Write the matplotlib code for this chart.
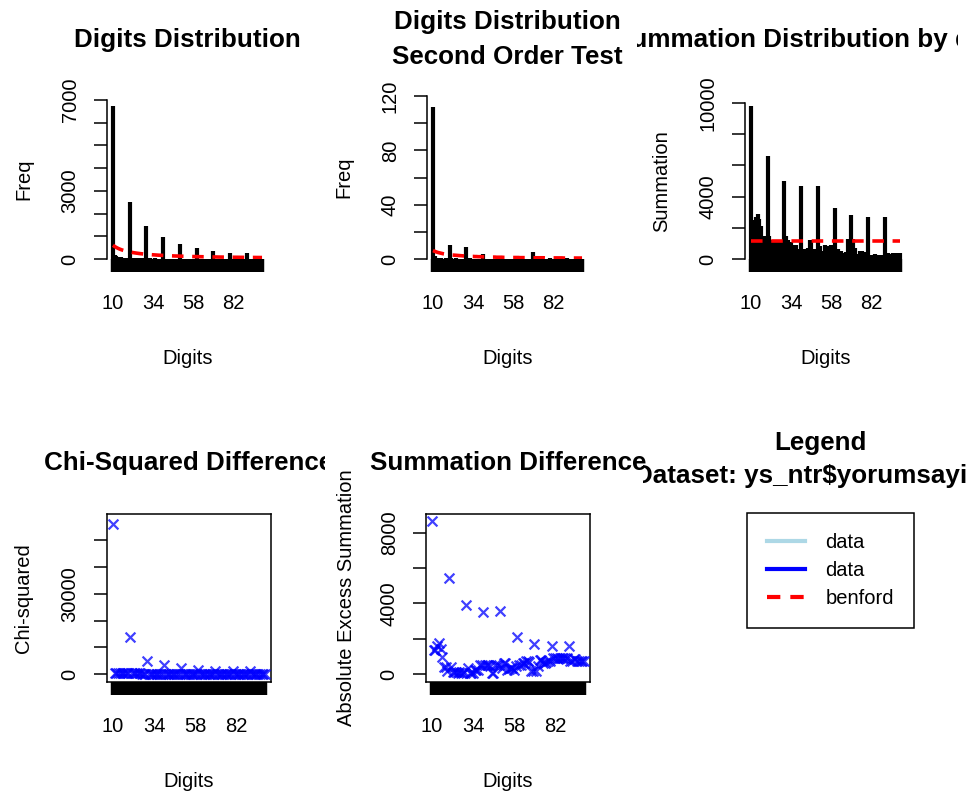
import numpy as np
import matplotlib
matplotlib.use("Agg")
import matplotlib.pyplot as plt
from matplotlib.lines import Line2D
from matplotlib.transforms import Bbox, TransformedBbox

plt.rcParams['font.family'] = ['Liberation Sans', 'DejaVu Sans']

# first-two digits 10..99
digits = list(range(10, 100))
shown_x = [10, 34, 58, 82]

# digits distribution (frequency)
freq = [6734, 190, 120, 80, 60, 70, 50, 45, 40, 35,
        2516, 40, 35, 30, 30, 40, 30, 25, 25, 20,
        1450, 30, 25, 20, 20, 25, 20, 18, 15, 15,
        977, 20, 18, 15, 15, 20, 15, 12, 12, 10,
        666, 15, 12, 12, 10, 15, 10, 10, 10, 8,
        488, 12, 10, 10, 8, 10, 8, 8, 8, 8,
        370, 10, 8, 8, 8, 10, 8, 6, 6, 6,
        281, 8, 6, 6, 6, 8, 6, 6, 6, 6,
        266, 6, 6, 5, 5, 6, 5, 5, 5, 5]
benford_freq = [604, 552, 508, 470, 437, 409, 384, 362, 343, 325,
                309, 295, 282, 270, 259, 249, 239, 231, 223, 215,
                208, 201, 195, 189, 184, 179, 174, 169, 165, 161,
                157, 153, 149, 146, 142, 139, 136, 133, 131, 128,
                126, 123, 121, 119, 116, 114, 112, 110, 108, 107,
                105, 103, 101, 100, 98, 97, 95, 94, 93, 91,
                90, 89, 88, 86, 85, 84, 83, 82, 81, 80,
                79, 78, 77, 76, 76, 75, 74, 73, 72, 71,
                71, 70, 69, 68, 68, 67, 66, 66, 65, 65]

# second order test
freq2 = [112, 2, 1, 1, 0, 1, 0, 0, 1, 0,
         10, 1, 0, 0, 1, 0, 0, 0, 0, 0,
         9, 0, 1, 0, 0, 0, 0, 0, 0, 0,
         4, 0, 0, 0, 0, 0, 0, 0, 0, 0,
         1, 0, 0, 0, 0, 0, 0, 0, 0, 0,
         2, 0, 0, 0, 0, 0, 0, 0, 0, 0,
         5, 0, 0, 0, 0, 0, 0, 0, 0, 0,
         1, 0, 0, 0, 0, 0, 0, 0, 0, 0,
         1, 0, 0, 0, 0, 0, 0, 0, 0, 0]
benford_freq2 = [6.2, 5.7, 5.2, 4.8, 4.5, 4.2, 3.9, 3.7, 3.5, 3.3,
                 3.2, 3.0, 2.9, 2.8, 2.7, 2.6, 2.5, 2.4, 2.3, 2.2,
                 2.1, 2.1, 2.0, 1.9, 1.9, 1.8, 1.8, 1.7, 1.7, 1.7,
                 1.6, 1.6, 1.5, 1.5, 1.5, 1.4, 1.4, 1.4, 1.3, 1.3,
                 1.3, 1.3, 1.2, 1.2, 1.2, 1.2, 1.2, 1.1, 1.1, 1.1,
                 1.1, 1.1, 1.0, 1.0, 1.0, 1.0, 1.0, 1.0, 1.0, 0.9,
                 0.9, 0.9, 0.9, 0.9, 0.9, 0.9, 0.9, 0.8, 0.8, 0.8,
                 0.8, 0.8, 0.8, 0.8, 0.8, 0.8, 0.8, 0.8, 0.7, 0.7,
                 0.7, 0.7, 0.7, 0.7, 0.7, 0.7, 0.7, 0.7, 0.7, 0.7]

# summation by digits
summation = [9800, 2480, 2480, 2700, 2910, 2570, 2100, 1500, 1500, 1300,
             6590, 1500, 1240, 1240, 1240, 1200, 1240, 1070, 1070, 1000,
             5030, 1455, 1200, 1070, 1070, 920, 900, 920, 640, 640,
             4650, 640, 640, 640, 700, 1200, 1200, 640, 640, 600,
             4700, 810, 490, 490, 920, 850, 810, 810, 920, 700,
             3250, 640, 640, 490, 490, 385, 385, 450, 1300, 1300,
             2850, 1300, 700, 340, 340, 490, 490, 450, 420, 420,
             2700, 240, 240, 240, 300, 240, 240, 240, 240, 240,
             2720, 385, 385, 300, 300, 385, 385, 385, 385, 385]
benford_sum = 1130

# chi-squared difference
chi_sq = [56200, 470, 420, 380, 350, 320, 300, 280, 260, 250,
          13900, 240, 230, 220, 210, 200, 190, 180, 170, 165,
          4900, 160, 155, 150, 145, 140, 135, 130, 128, 125,
          3400, 120, 118, 115, 112, 110, 108, 105, 102, 100,
          2200, 98, 96, 94, 92, 90, 88, 86, 85, 84,
          1600, 82, 80, 79, 78, 77, 76, 75, 74, 73,
          1100, 72, 71, 70, 69, 68, 67, 66, 65, 64,
          1000, 63, 62, 61, 60, 60, 59, 58, 57, 56,
          1000, 56, 55, 54, 54, 53, 52, 52, 51, 50]

excess = np.abs(np.array(summation) - benford_sum)

W, H = 968, 796
fig = plt.figure(figsize=(W / 100, H / 100), dpi=100)

FS = 14.5
TFS = 18.7
red_dash = (3.2, 2.4)


def px_axes(x0, y0, x1, y1):
    return fig.add_axes([x0 / W, 1 - y1 / H, (x1 - x0) / W, (y1 - y0) / H])


def px_text(x, y, s, clip=None, **kw):
    t = fig.text(x / W, 1 - y / H, s, ha='center', va='center', **kw)
    if clip:
        # the original device cuts long titles at the panel border
        box = Bbox.from_extents(clip[0] / W, 0, clip[1] / W, 1)
        t.set_clip_box(TransformedBbox(box, fig.transFigure))
        t.set_clip_on(True)
    return t


def digit_axis(ax, yticks, ylabels, ylabel, ylab_x, boxed):
    ax.set_xlim(digits[0] - 3.56, digits[-1] + 3.56)
    ax.set_xticks(digits)
    ax.set_xticklabels([str(d) if d in shown_x else '' for d in digits])
    ax.tick_params(axis='x', length=9.7, width=3.2, pad=15.5, labelsize=FS)
    ax.set_yticks(yticks)
    ax.set_yticklabels(ylabels, rotation=90, va='center')
    ax.tick_params(axis='y', length=9.7, width=1.1, pad=10, labelsize=FS)
    if boxed:
        for s in ax.spines.values():
            s.set_linewidth(1.1)
    else:
        for s in ['top', 'right', 'bottom']:
            ax.spines[s].set_visible(False)
        ax.spines['left'].set_bounds(yticks[0], yticks[-1])
        ax.spines['left'].set_linewidth(1.1)
    ax.set_xlabel('Digits', fontsize=FS)
    ax.set_ylabel(ylabel, fontsize=FS)
    bb = ax.get_position()
    ax.xaxis.set_label_coords(0.5 * (bb.x0 + bb.x1), bb.y0 - 90 / H,
                              transform=fig.transFigure)
    ax.yaxis.set_label_coords(ylab_x / W, 0.5 * (bb.y0 + bb.y1),
                              transform=fig.transFigure)


# ---- digits distribution
ax1 = px_axes(107, 100, 268, 259)
ax1.vlines(digits, 0, freq, colors='black', linewidth=3)
ax1.plot(digits, benford_freq, color='red', lw=2.6, dashes=red_dash)
ax1.set_ylim(0, 7000)
t1 = list(range(0, 7001, 1000))
digit_axis(ax1, t1, [str(v) if v in (0, 3000, 7000) else '' for v in t1],
           'Freq', 33, False)

# ---- second order test
ax2 = px_axes(427, 96, 588, 259)
ax2.vlines(digits, 0, freq2, colors='black', linewidth=3)
ax2.plot(digits, benford_freq2, color='red', lw=2.6, dashes=red_dash)
ax2.set_ylim(0, 120)
t2 = list(range(0, 121, 20))
digit_axis(ax2, t2, [str(v) if v % 40 == 0 else '' for v in t2],
           'Freq', 353, False)

# ---- summation distribution
ax3 = px_axes(745, 103, 906, 259)
ax3.vlines(digits, 0, summation, colors='black', linewidth=3)
ax3.plot([digits[0], digits[-1]], [benford_sum, benford_sum], color='red',
         lw=2.6, dashes=red_dash)
ax3.set_ylim(0, 10000)
t3 = list(range(0, 10001, 2000))
digit_axis(ax3, t3, [str(v) if v in (0, 4000, 10000) else '' for v in t3],
           'Summation', 671, False)

# ---- chi-squared difference
ax4 = px_axes(107, 514, 271, 682)
ax4.scatter(digits, chi_sq, marker='x', color='blue', s=50, linewidths=1.6,
            alpha=0.75, zorder=3)
ax4.set_ylim(-3000, 59900)
t4 = list(range(0, 50001, 10000))
digit_axis(ax4, t4, [str(v) if v in (0, 30000) else '' for v in t4],
           'Chi-squared', 33, True)

# ---- summation difference
ax5 = px_axes(426, 514, 590, 682)
ax5.scatter(digits, excess, marker='x', color='blue', s=50, linewidths=1.6,
            alpha=0.75, zorder=3)
ax5.set_ylim(-453, 9065)
t5 = list(range(0, 8001, 2000))
digit_axis(ax5, t5, [str(v) if v % 4000 == 0 else '' for v in t5],
           'Absolute Excess Summation', 356, True)

# ---- titles
px_text(187, 40, 'Digits Distribution', fontsize=TFS, fontweight='bold')
px_text(507, 22, 'Digits Distribution', fontsize=TFS, fontweight='bold')
px_text(507, 57, 'Second Order Test', fontsize=TFS, fontweight='bold')
px_text(819, 40, 'Summation Distribution by digits', clip=(637, 958),
        fontsize=TFS, fontweight='bold')
px_text(189, 463, 'Chi-Squared Difference', clip=(0, 325),
        fontsize=TFS, fontweight='bold')
px_text(508, 463, 'Summation Difference', clip=(325, 650),
        fontsize=TFS, fontweight='bold')
px_text(820, 443, 'Legend', fontsize=TFS, fontweight='bold')
px_text(812, 476, 'Dataset: ys_ntr$yorumsayisi', clip=(643, 968),
        fontsize=TFS, fontweight='bold')

# ---- legend panel
handles = [Line2D([], [], color='lightblue', lw=3),
           Line2D([], [], color='blue', lw=3),
           Line2D([], [], color='red', lw=3, dashes=red_dash)]
leg = fig.legend(handles, ['data', 'data', 'benford'], loc='upper left',
                 bbox_to_anchor=(747 / W, 1 - 513 / H), borderaxespad=0,
                 frameon=True, fancybox=False, edgecolor='black',
                 framealpha=1, fontsize=FS, handlelength=1.9,
                 handletextpad=1.0, borderpad=1.0, labelspacing=0.45)
leg.get_frame().set_linewidth(1.1)

fig.savefig('out.png', dpi=100)
